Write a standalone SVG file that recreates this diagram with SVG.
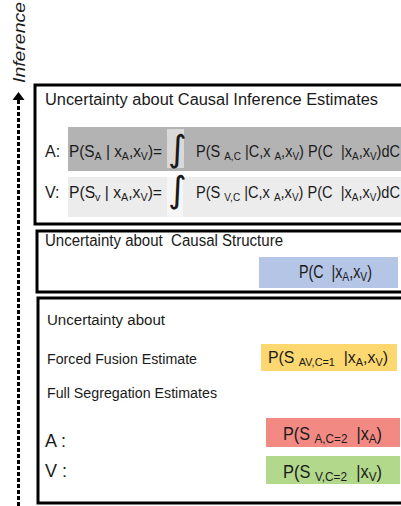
<svg xmlns="http://www.w3.org/2000/svg" width="401" height="506" viewBox="0 0 401 506">
<defs>
<style>
text{font-family:"Liberation Sans",Arial,sans-serif;fill:#1a1a1a;white-space:pre}
.box{fill:#fff;stroke:#000;stroke-width:3}
.t16{font-size:16px}
.t14{font-size:14px}
.f{font-size:16px}
.s{font-size:11px}
.big{font-size:18px}
.bs{font-size:13px}
.int{font-family:"DejaVu Sans",sans-serif;font-size:36px}
</style>
<marker id="ah" markerWidth="12" markerHeight="10" refX="6" refY="1" orient="auto-start-reverse" markerUnits="userSpaceOnUse" viewBox="0 0 12 10">
<path d="M0,9 L6,1 L12,9 Z" fill="#000"/>
</marker>
</defs>
<rect width="401" height="506" fill="#fff"/>

<g id="connectors">
<line x1="18.5" y1="506" x2="18.5" y2="100" stroke="#000" stroke-width="3" stroke-dasharray="4 2"/>
<path d="M12.5,100 L18.5,92 L24.5,100 Z" fill="#000"/>
</g>

<g id="axis-label">
<text class="t16" font-style="italic" transform="translate(25,83) rotate(-90)" textLength="81" lengthAdjust="spacingAndGlyphs">Inference</text>
</g>

<g id="box-estimates">
<rect class="box" x="35" y="85" width="380" height="139"/>
<text class="t16" x="45" y="105" textLength="333" lengthAdjust="spacingAndGlyphs">Uncertainty about Causal Inference Estimates</text>
<rect x="68" y="127" width="340" height="44" fill="#b3b3b3"/>
<rect x="167" y="129" width="17" height="39" fill="#d9d9d9"/>
<text class="f" x="45" y="157">A:</text>
<text class="f" x="69" y="157" textLength="93" lengthAdjust="spacingAndGlyphs">P(S<tspan class="s" dy="3">A</tspan><tspan dy="-3"> | x</tspan><tspan class="s" dy="3">A</tspan><tspan dy="-3">,x</tspan><tspan class="s" dy="3">V</tspan><tspan dy="-3">)=</tspan></text>
<text class="int" x="168" y="161">∫</text>
<text class="f" x="196" y="157" textLength="204" lengthAdjust="spacingAndGlyphs">P(S <tspan class="s" dy="3">A,C</tspan><tspan dy="-3"> |C,x </tspan><tspan class="s" dy="3">A</tspan><tspan dy="-3">,x</tspan><tspan class="s" dy="3">V</tspan><tspan dy="-3">) P(C  |x</tspan><tspan class="s" dy="3">A</tspan><tspan dy="-3">,x</tspan><tspan class="s" dy="3">V</tspan><tspan dy="-3">)dC</tspan></text>
<rect x="68" y="177" width="340" height="40" fill="#ececec"/>
<rect x="167" y="177" width="16" height="40" fill="#f6f6f6"/>
<text class="f" x="45" y="198">V:</text>
<text class="f" x="69" y="198" textLength="93" lengthAdjust="spacingAndGlyphs">P(S<tspan class="s" dy="3">v</tspan><tspan dy="-3"> | x</tspan><tspan class="s" dy="3">A</tspan><tspan dy="-3">,x</tspan><tspan class="s" dy="3">V</tspan><tspan dy="-3">)=</tspan></text>
<text class="int" x="168" y="202">∫</text>
<text class="f" x="196" y="198" textLength="204" lengthAdjust="spacingAndGlyphs">P(S <tspan class="s" dy="3">V,C</tspan><tspan dy="-3"> |C,x </tspan><tspan class="s" dy="3">A</tspan><tspan dy="-3">,x</tspan><tspan class="s" dy="3">V</tspan><tspan dy="-3">) P(C  |x</tspan><tspan class="s" dy="3">A</tspan><tspan dy="-3">,x</tspan><tspan class="s" dy="3">V</tspan><tspan dy="-3">)dC</tspan></text>
</g>

<g id="box-structure">
<rect class="box" x="37" y="231" width="380" height="61"/>
<text class="t16" x="45" y="246" textLength="238" lengthAdjust="spacingAndGlyphs">Uncertainty about  Causal Structure</text>
<rect x="259" y="257" width="139" height="31" fill="#b4c5e6"/>
<text class="big" x="299" y="278" textLength="73" lengthAdjust="spacingAndGlyphs">P(C  |x<tspan class="bs" dy="3">A</tspan><tspan dy="-3">,x</tspan><tspan class="bs" dy="3">V</tspan><tspan dy="-3">)</tspan></text>
</g>

<g id="box-segregation">
<rect class="box" x="38" y="298" width="380" height="205"/>
<text class="t14" x="47" y="325" textLength="118" lengthAdjust="spacingAndGlyphs">Uncertainty about</text>
<text class="t14" x="47" y="364" textLength="150" lengthAdjust="spacingAndGlyphs">Forced Fusion Estimate</text>
<text class="t14" x="47" y="398" textLength="170" lengthAdjust="spacingAndGlyphs">Full Segregation Estimates</text>
<text class="big" x="45" y="447">A :</text>
<text class="big" x="45" y="477">V :</text>
<rect x="261" y="344" width="136" height="27" fill="#fdd770"/>
<text class="f" x="268" y="363" textLength="120" lengthAdjust="spacingAndGlyphs">P(S <tspan class="s" dy="3">AV,C=1</tspan><tspan dy="-3">  |x</tspan><tspan class="s" dy="3">A</tspan><tspan dy="-3">,x</tspan><tspan class="s" dy="3">V</tspan><tspan dy="-3">)</tspan></text>
<rect x="266" y="418" width="134" height="29" fill="#f28a83"/>
<text class="big" x="283" y="440" textLength="99" lengthAdjust="spacingAndGlyphs">P(S <tspan class="bs" dy="3">A,C=2</tspan><tspan dy="-3">  |x</tspan><tspan class="bs" dy="3">A</tspan><tspan dy="-3">)</tspan></text>
<rect x="266" y="456" width="134" height="28" fill="#b2d88c"/>
<text class="big" x="283" y="478" textLength="99" lengthAdjust="spacingAndGlyphs">P(S <tspan class="bs" dy="3">V,C=2</tspan><tspan dy="-3">  |x</tspan><tspan class="bs" dy="3">V</tspan><tspan dy="-3">)</tspan></text>
</g>
</svg>
